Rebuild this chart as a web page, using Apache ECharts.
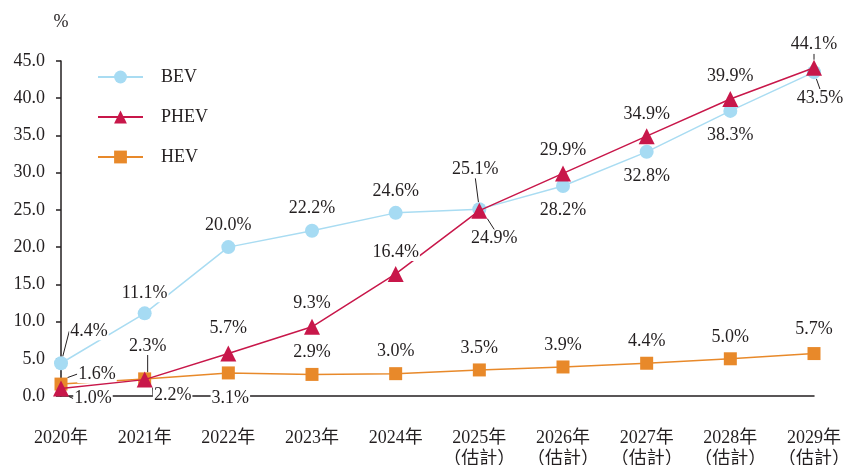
<!DOCTYPE html>
<html><head><meta charset="utf-8">
<script src="https://cdn.jsdelivr.net/npm/echarts@6/dist/echarts.min.js"></script>
<style>html,body{margin:0;padding:0;background:#fff}#c{width:844px;height:465px}</style>
</head><body><div id="c"></div>
<script>
const categories = ['2020年','2021年','2022年','2023年','2024年','2025年\n（估計）','2026年\n（估計）','2027年\n（估計）','2028年\n（估計）','2029年\n（估計）'];
const bev  = [4.4, 11.1, 20.0, 22.2, 24.6, 25.1, 28.2, 32.8, 38.3, 43.5];
const phev = [1.0, 2.2, 5.7, 9.3, 16.4, 24.9, 29.9, 34.9, 39.9, 44.1];
const hev  = [1.6, 2.3, 3.1, 2.9, 3.0, 3.5, 3.9, 4.4, 5.0, 5.7];
const yTicks = [0, 5, 10, 15, 20, 25, 30, 35, 40, 45];

// label placement (offset from point to label centre) and leader flags - styling only
const UP = [0,-22], DN = [0,24];
const bevLab  = [[28,-32],[0,-20],UP,UP,UP,[-4,-40],DN,DN,DN,[6,26]];
const bevLead = [1,0,0,0,0,1,0,0,0,1];
const phevLab = [[32,10],[28,16],[0,-25],[0,-24],[0,-22],[15,28],[0,-23],[0,-22],[0,-23],[0,-23]];
const phevLead= [1,1,0,0,0,1,0,0,0,1];
const hevLab  = [[36,-10],[3,-33],[2,25],UP,UP,UP,UP,UP,UP,[0,-24]];
const hevLead = [1,1,0,0,0,0,0,0,0,0];

const FONT = '"Liberation Serif","Times New Roman","Noto Sans CJK TC",serif';
const TXT = '#231f20';
const FS = 18;

function mk(vals, lab, lead){
  return vals.map((v,i)=>({value:v, labelLine:{show:!!lead[i], lineStyle:{color:'#231f20',width:1}}}));
}
function layoutFn(lab){
  return function(p){
    const o = lab[p.dataIndex];
    return {dx:o[0], dy:o[1]};
  };
}
const labelBase = {
  show:true, position:'inside', formatter: p=>p.value.toFixed(1)+'%',
  fontFamily:FONT, fontSize:FS, color:TXT, backgroundColor:'#fff', padding:[0,1]
};

const chart = echarts.init(document.getElementById('c'));
chart.setOption({
  animation:false,
  grid:{left:61, right:30, top:61, bottom:69, containLabel:false, outerBoundsMode:'none'},
  legend:{
    orient:'vertical', left:92, top:63, itemWidth:45, itemHeight:16, itemGap:22,
    textStyle:{fontFamily:FONT, fontSize:FS, color:TXT, padding:[0,0,0,13]},
    data:['BEV','PHEV','HEV']
  },
  xAxis:{
    type:'category', data:categories, boundaryGap:false,
    axisLine:{lineStyle:{color:'#231f20', width:1.5}},
    axisTick:{show:false},
    axisLabel:{fontFamily:FONT, fontSize:FS, color:TXT, margin:32, lineHeight:21, interval:0}
  },
  yAxis:{
    type:'value', min:yTicks[0], max:yTicks[yTicks.length-1], interval:5,
    name:'%', nameGap:30, nameTextStyle:{fontFamily:FONT, fontSize:FS, color:TXT},
    splitLine:{show:false},
    axisLine:{show:true, lineStyle:{color:'#231f20', width:1.5}},
    axisTick:{show:true, inside:false, length:5, lineStyle:{color:'#231f20', width:1.5}},
    axisLabel:{fontFamily:FONT, fontSize:FS, color:TXT, margin:16, formatter:v=>v.toFixed(1)}
  },
  series:[
    {name:'HEV', type:'line', data:mk(hev,hevLab,hevLead), symbol:'rect', symbolSize:13,
     lineStyle:{color:'#e8892a', width:1.5}, itemStyle:{color:'#e8892a'},
     label:labelBase, labelLayout:layoutFn(hevLab), z:3},
    {name:'BEV', type:'line', data:mk(bev,bevLab,bevLead), symbol:'circle', symbolSize:14,
     lineStyle:{color:'#a9dcf2', width:1.5}, itemStyle:{color:'#a6dbf3'},
     label:labelBase, labelLayout:layoutFn(bevLab), z:4},
    {name:'PHEV', type:'line', data:mk(phev,phevLab,phevLead), symbol:'triangle', symbolSize:16,
     lineStyle:{color:'#c8174a', width:1.5}, itemStyle:{color:'#c8174a'},
     label:labelBase, labelLayout:layoutFn(phevLab), z:5}
  ]
});
</script></body></html>
